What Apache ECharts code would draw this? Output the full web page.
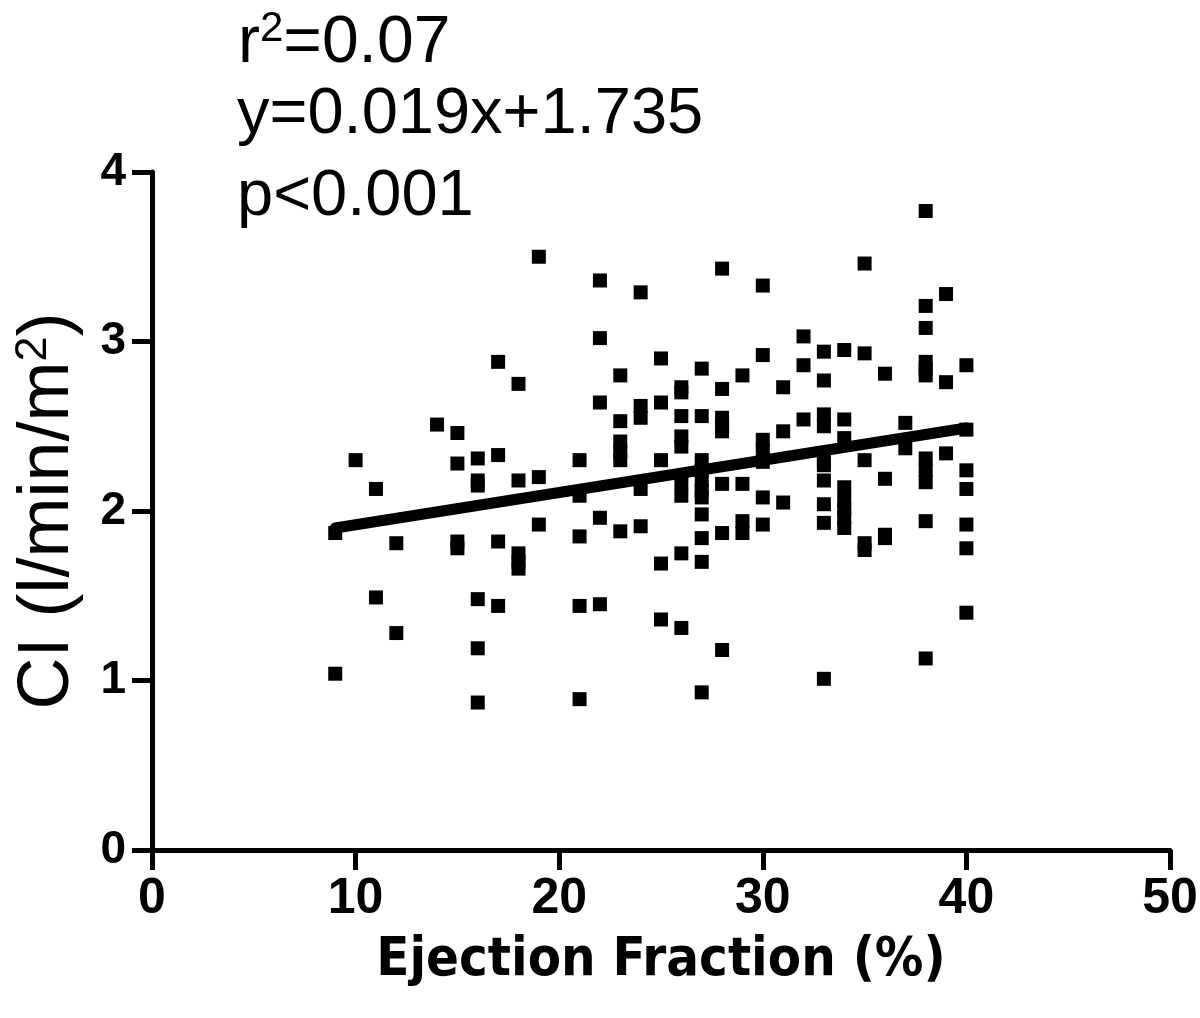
<!DOCTYPE html>
<html>
<head>
<meta charset="utf-8">
<script src="https://cdn.jsdelivr.net/npm/echarts@6/dist/echarts.min.js"></script>
<style>
  html, body { margin: 0; padding: 0; background: #fff; }
  #myChart { width: 1200px; height: 1018px; }
</style>
</head>
<body>
<div id="myChart"></div>
<script>
// ejection fraction (%) and cardiac index (l/min/m2)
const efValues = [
  9, 9, 10, 11, 11, 12, 12, 14,
  15, 15, 15, 15,
  16, 16, 16, 16, 16, 16,
  17, 17, 17, 17,
  18, 18, 18, 18, 18,
  19, 19, 19,
  21, 21, 21, 21, 21,
  22, 22, 22, 22, 22,
  23, 23, 23, 23, 23, 23,
  24, 24, 24, 24, 24,
  25, 25, 25, 25, 25,
  26, 26, 26, 26, 26, 26, 26, 26, 26,
  27, 27, 27, 27, 27, 27, 27, 27, 27, 27, 27,
  28, 28, 28, 28, 28, 28, 28, 28,
  29, 29, 29, 29,
  30, 30, 30, 30, 30, 30, 30,
  31, 31, 31,
  32, 32, 32,
  33, 33, 33, 33, 33, 33, 33, 33, 33, 33,
  34, 34, 34, 34, 34, 34, 34, 34,
  35, 35, 35, 35, 35,
  36, 36, 36, 36,
  37, 37,
  38, 38, 38, 38, 38, 38, 38, 38, 38, 38, 38,
  39, 39, 39,
  40, 40, 40, 40, 40, 40, 40
]
const ciValues = [
  1.87, 1.04, 2.30, 2.13, 1.49, 1.81, 1.28, 2.51,
  2.46, 2.28, 1.82, 1.78,
  2.31, 2.18, 2.15, 1.48, 1.19, 0.87,
  2.88, 2.33, 1.82, 1.44,
  2.75, 2.18, 1.75, 1.70, 1.66,
  3.50, 2.20, 1.92,
  2.30, 2.09, 1.85, 1.44, 0.89,
  3.36, 3.02, 2.64, 1.96, 1.45,
  2.80, 2.53, 2.41, 2.35, 2.30, 1.88,
  3.29, 2.62, 2.55, 2.13, 1.91,
  2.90, 2.64, 2.30, 1.69, 1.36,
  2.73, 2.70, 2.56, 2.44, 2.38, 2.17, 2.09, 1.75, 1.31,
  2.84, 2.56, 2.30, 2.24, 2.18, 2.12, 2.08, 1.98, 1.84, 1.70, 0.93,
  3.43, 2.72, 2.55, 2.50, 2.47, 2.16, 1.87, 1.18,
  2.80, 2.16, 1.94, 1.87,
  3.33, 2.92, 2.42, 2.36, 2.29, 2.08, 1.92,
  2.73, 2.47, 2.05,
  3.03, 2.86, 2.54,
  2.94, 2.77, 2.57, 2.50, 2.30, 2.27, 2.18, 2.04, 1.93, 1.01,
  2.95, 2.54, 2.43, 2.14, 2.06, 2.01, 1.96, 1.90,
  3.46, 2.93, 2.30, 1.81, 1.77,
  2.81, 2.19, 1.86, 1.84,
  2.52, 2.37,
  3.77, 3.21, 3.08, 2.88, 2.84, 2.80, 2.31, 2.24, 2.17, 1.94, 1.13,
  3.28, 2.76, 2.34,
  2.86, 2.48, 2.24, 2.13, 1.92, 1.78, 1.40
]
// regression line end points (y=0.019x+1.735)
const fitX = [9, 40]
const fitY = [1.90, 2.49]

const xTicks = [0, 10, 20, 30, 40, 50]
const yTicks = [0, 1, 2, 3, 4]

const narrow = "'DejaVu Sans Condensed', 'Liberation Sans', sans-serif"
const arial = "'Liberation Sans', Arial, sans-serif"

const points = efValues.map((x, i) => [x, ciValues[i]])
const fitLine = fitX.map((x, i) => [x, fitY[i]])

const chart = echarts.init(document.getElementById('myChart'), null, { renderer: 'canvas' })

const options = {
  backgroundColor: '#fff',
  animation: false,
  grid: {
    left: 152,
    right: 30,
    top: 172,
    bottom: 168,
    outerBoundsMode: 'none'
  },
  xAxis: {
    type: 'value',
    min: xTicks[0],
    max: xTicks[xTicks.length - 1],
    interval: 10,
    name: 'Ejection Fraction (%)',
    nameLocation: 'middle',
    nameGap: 84,
    nameTextStyle: {
      color: '#000',
      fontFamily: narrow,
      fontWeight: 'bold',
      fontSize: 54
    },
    axisLine: {
      lineStyle: { color: '#000', width: 5 }
    },
    axisTick: {
      length: 20,
      lineStyle: { color: '#000', width: 5 }
    },
    axisLabel: {
      color: '#000',
      fontFamily: arial,
      fontWeight: 'bold',
      fontSize: 50,
      margin: 24
    },
    splitLine: { show: false }
  },
  yAxis: {
    type: 'value',
    min: yTicks[0],
    max: yTicks[yTicks.length - 1],
    interval: 1,
    name: '{a|CI (l/min/m}{s|2}{a|)}',
    nameLocation: 'middle',
    nameGap: 66,
    nameTextStyle: {
      color: '#000',
      rich: {
        a: { fontFamily: arial, fontSize: 72, color: '#000' },
        s: { fontFamily: arial, fontSize: 45, color: '#000', verticalAlign: 'top', padding: [0, 0, 30, 0] }
      }
    },
    axisLine: {
      lineStyle: { color: '#000', width: 5 }
    },
    axisTick: {
      length: 20,
      lineStyle: { color: '#000', width: 5 }
    },
    axisLabel: {
      color: '#000',
      fontFamily: arial,
      fontWeight: 'bold',
      fontSize: 46,
      margin: 26
    },
    splitLine: { show: false }
  },
  graphic: [
    {
      type: 'text',
      left: 238,
      top: 8,
      style: {
        text: '{a|r}{s|2}{a|=0.07}',
        rich: {
          a: { fontFamily: arial, fontSize: 66, fill: '#000' },
          s: { fontFamily: arial, fontSize: 42, fill: '#000', padding: [0, 0, 30, 0] }
        }
      }
    },
    {
      type: 'text',
      left: 237,
      top: 83,
      style: { text: 'y=0.019x+1.735', fontFamily: arial, fontSize: 65, fill: '#000' }
    },
    {
      type: 'text',
      left: 237,
      top: 165,
      style: { text: 'p<0.001', fontFamily: arial, fontSize: 65, fill: '#000' }
    }
  ],
  series: [
    {
      name: 'CI',
      type: 'scatter',
      symbol: 'rect',
      symbolSize: 14,
      itemStyle: { color: '#000', opacity: 1 },
      data: points,
      z: 3
    },
    {
      name: 'fit',
      type: 'line',
      symbol: 'none',
      lineStyle: { color: '#000', width: 11, cap: 'round' },
      data: fitLine,
      z: 4
    }
  ]
}

chart.setOption(options)
</script>
</body>
</html>
